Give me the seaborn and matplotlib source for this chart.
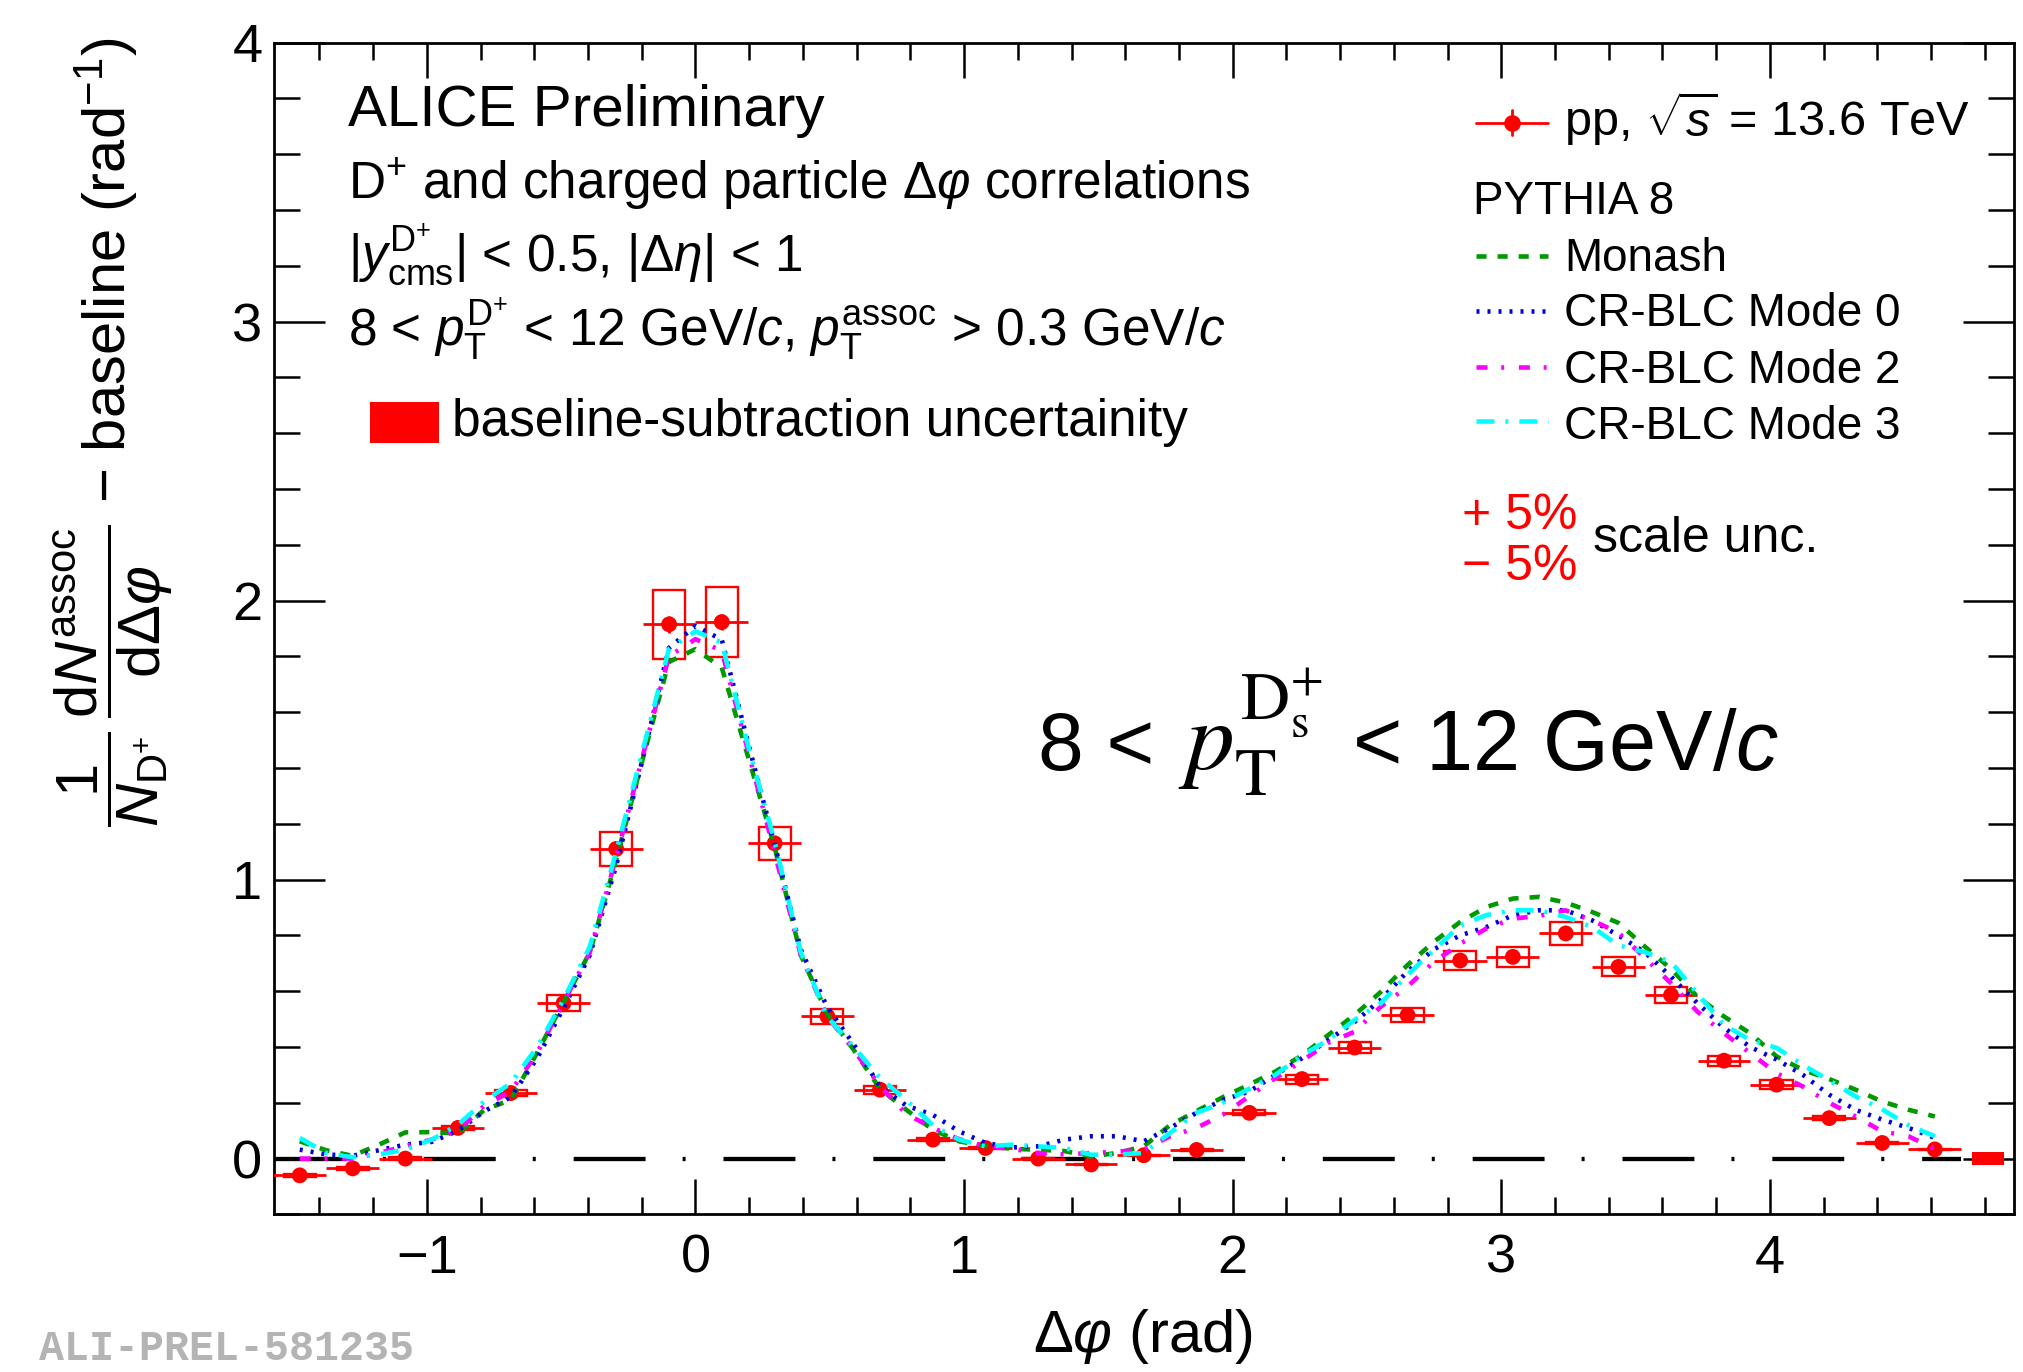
import numpy as np
import pandas as pd
import matplotlib
matplotlib.use("Agg")
import matplotlib.pyplot as plt
from matplotlib.lines import Line2D
from matplotlib.patches import Rectangle
from matplotlib.ticker import MultipleLocator
import seaborn as sns

# ---- D+ - charged-particle azimuthal correlation, pp 13.6 TeV, 8 < pT < 12 GeV/c ----
dphi = np.array([-1.473, -1.276, -1.080, -0.884, -0.687, -0.491, -0.295, -0.098,
                 0.098, 0.295, 0.491, 0.687, 0.884, 1.080, 1.276, 1.473,
                 1.669, 1.866, 2.062, 2.258, 2.454, 2.651, 2.847, 3.043,
                 3.240, 3.436, 3.632, 3.829, 4.025, 4.221, 4.418, 4.614])
corr = np.array([-0.060, -0.035, 0.000, 0.110, 0.235, 0.557, 1.110, 1.915,
                 1.923, 1.130, 0.510, 0.247, 0.068, 0.038, 0.000, -0.021,
                 0.012, 0.031, 0.164, 0.285, 0.398, 0.514, 0.710, 0.723,
                 0.807, 0.687, 0.586, 0.351, 0.265, 0.145, 0.056, 0.033])
stat = np.array([0.010, 0.010, 0.010, 0.012, 0.014, 0.018, 0.024, 0.030,
                 0.030, 0.024, 0.018, 0.014, 0.012, 0.010, 0.010, 0.010,
                 0.010, 0.010, 0.012, 0.014, 0.016, 0.018, 0.020, 0.020,
                 0.020, 0.020, 0.018, 0.016, 0.014, 0.012, 0.010, 0.010])
syst = np.array([0.006, 0.005, 0.004, 0.006, 0.012, 0.028, 0.060, 0.123,
                 0.126, 0.058, 0.027, 0.015, 0.005, 0.004, 0.002, 0.002,
                 0.002, 0.003, 0.009, 0.016, 0.021, 0.026, 0.035, 0.036,
                 0.040, 0.034, 0.029, 0.018, 0.016, 0.008, 0.004, 0.003])
bin_halfwidth = np.pi / 32
baseline_unc = 0.024

# ---- PYTHIA 8 predictions, sampled every half bin ----
model_dphi = np.round(-1.473 + np.arange(63) * np.pi / 32, 3)
monash = [0.062, 0.030, 0.010, 0.050, 0.094, 0.095, 0.090, 0.175, 0.210, 0.380,
          0.560, 0.740, 1.070, 1.430, 1.780, 1.826, 1.760, 1.440, 1.120, 0.730,
          0.520, 0.390, 0.250, 0.175, 0.104, 0.062, 0.045, 0.035, 0.032, 0.027,
          0.008, 0.020, 0.044, 0.120, 0.170, 0.220, 0.265, 0.312, 0.370, 0.443,
          0.515, 0.598, 0.693, 0.777, 0.848, 0.902, 0.932, 0.938, 0.918, 0.884,
          0.845, 0.760, 0.680, 0.580, 0.510, 0.449, 0.366, 0.318, 0.285, 0.247,
          0.205, 0.175, 0.151]
mode0 = [0.032, 0.015, 0.010, 0.030, 0.050, 0.060, 0.100, 0.170, 0.220, 0.360,
         0.540, 0.730, 1.050, 1.430, 1.830, 1.909, 1.860, 1.490, 1.130, 0.750,
         0.544, 0.410, 0.258, 0.190, 0.157, 0.098, 0.056, 0.040, 0.044, 0.068,
         0.080, 0.080, 0.062, 0.110, 0.164, 0.210, 0.240, 0.300, 0.360, 0.425,
         0.490, 0.570, 0.670, 0.750, 0.800, 0.830, 0.872, 0.890, 0.890, 0.854,
         0.800, 0.740, 0.652, 0.557, 0.470, 0.400, 0.355, 0.300, 0.229, 0.175,
         0.140, 0.110, 0.074]
mode2 = [0.000, 0.000, 0.000, 0.020, 0.045, 0.068, 0.100, 0.190, 0.240, 0.380,
         0.560, 0.740, 1.080, 1.440, 1.800, 1.862, 1.820, 1.460, 1.100, 0.730,
         0.510, 0.390, 0.260, 0.160, 0.110, 0.070, 0.044, 0.035, 0.020, 0.015,
         0.020, 0.025, 0.032, 0.080, 0.110, 0.157, 0.223, 0.288, 0.350, 0.415,
         0.455, 0.545, 0.616, 0.705, 0.770, 0.825, 0.860, 0.870, 0.890, 0.854,
         0.810, 0.720, 0.628, 0.527, 0.450, 0.378, 0.306, 0.258, 0.200, 0.151,
         0.098, 0.080, 0.035]
mode3 = [0.074, 0.020, 0.005, 0.015, 0.032, 0.068, 0.121, 0.205, 0.270, 0.400,
         0.570, 0.760, 1.100, 1.460, 1.826, 1.890, 1.850, 1.480, 1.140, 0.740,
         0.509, 0.400, 0.290, 0.210, 0.120, 0.068, 0.044, 0.050, 0.044, 0.038,
         0.014, 0.014, 0.020, 0.092, 0.164, 0.200, 0.250, 0.300, 0.370, 0.425,
         0.497, 0.557, 0.658, 0.747, 0.836, 0.873, 0.890, 0.890, 0.866, 0.830,
         0.765, 0.740, 0.705, 0.592, 0.480, 0.425, 0.397, 0.336, 0.280, 0.223,
         0.177, 0.120, 0.080]

model_names = ["Monash", "CR-BLC Mode 0", "CR-BLC Mode 2", "CR-BLC Mode 3"]
model_values = [monash, mode0, mode2, mode3]
model_colors = {"Monash": "#009900", "CR-BLC Mode 0": "#0000dd",
                "CR-BLC Mode 2": "#ff00ff", "CR-BLC Mode 3": "#00ffff"}
model_dashes = {"Monash": (2.2, 2.4), "CR-BLC Mode 0": (0.65, 1.75),
                "CR-BLC Mode 2": (2.4, 3.0, 0.65, 3.2),
                "CR-BLC Mode 3": (3.9, 2.4, 0.65, 2.4)}
model_lw = 3.3

models = pd.concat([pd.DataFrame({"dphi": model_dphi, "value": v, "model": n})
                    for n, v in zip(model_names, model_values)], ignore_index=True)

# ---- figure setup ----
W, H, DPI = 2023, 1372, 100
sns.set_theme(style="ticks")
plt.rcParams.update({
    "font.family": ["Liberation Sans", "DejaVu Sans"],
    "mathtext.fontset": "custom",
    "mathtext.rm": "Liberation Sans",
    "mathtext.it": "Liberation Sans:italic",
    "mathtext.bf": "Liberation Sans:bold",
    "mathtext.sf": "Liberation Sans",
    "axes.unicode_minus": True,
    "axes.edgecolor": "black",
    "axes.linewidth": 2.0,
    "text.color": "black",
    "xtick.color": "black",
    "ytick.color": "black",
})

def fx(x):
    return x / W

def fy(y):
    return 1 - y / H

fig = plt.figure(figsize=(W / DPI, H / DPI), dpi=DPI)
ax = fig.add_axes([fx(273.5), fy(1214.4), (2014 - 273.5) / W, (1214.4 - 42.6) / H])

# zero reference line
ax.plot([-np.pi / 2, 3 * np.pi / 2], [0, 0], color="black", lw=3.1,
        dashes=(16.7, 8.6, 0.7, 8.8), zorder=1)

# baseline-subtraction uncertainty
ax.bar(3 * np.pi / 2 + np.pi / 32, 2 * baseline_unc, bottom=-baseline_unc,
       width=0.12, color="red", linewidth=0, zorder=2)

# data: systematic boxes, statistical bars, markers
ax.bar(dphi, 2 * syst, bottom=corr - syst, width=0.12, fill=False,
       edgecolor="red", linewidth=1.7, zorder=3)
ax.errorbar(dphi, corr, xerr=bin_halfwidth, yerr=stat, fmt="none",
            ecolor="red", elinewidth=2.0, capsize=0, zorder=3)
sns.scatterplot(x=dphi, y=corr, color="red", s=130, edgecolor="none",
                linewidth=0, zorder=4, ax=ax, legend=False)

# PYTHIA 8 curves
sns.lineplot(data=models, x="dphi", y="value", hue="model", style="model",
             hue_order=model_names, style_order=model_names,
             palette=model_colors, dashes=model_dashes, linewidth=model_lw,
             estimator=None, errorbar=None, legend=False, ax=ax, zorder=5)

ax.set_xlim(-np.pi / 2, 3 * np.pi / 2 + np.pi / 16)
ax.set_ylim(-0.2, 4)
ax.set_xlabel("")
ax.set_ylabel("")
ax.xaxis.set_major_locator(MultipleLocator(1))
ax.xaxis.set_minor_locator(MultipleLocator(0.2))
ax.yaxis.set_major_locator(MultipleLocator(1))
ax.yaxis.set_minor_locator(MultipleLocator(0.2))
ax.tick_params(axis="x", which="major", direction="in", length=25, width=1.8,
               top=True, bottom=True, labelsize=39, pad=14)
ax.tick_params(axis="x", which="minor", direction="in", length=12, width=1.8,
               top=True, bottom=True)
ax.tick_params(axis="y", which="major", direction="in", length=37, width=1.8,
               left=True, right=True, labelsize=39, pad=8)
ax.tick_params(axis="y", which="minor", direction="in", length=19, width=1.8,
               left=True, right=True)
for s in ax.spines.values():
    s.set_linewidth(2.0)
    s.set_color("black")

# axis titles
fig.text(fx(1143), fy(1352), r"$\Delta\varphi$ (rad)", ha="center",
         va="baseline", size=43)
fig.text(fx(113), fy(38), r"$\dfrac{1}{N_{\mathrm{D}^{+}}}\,\dfrac{\mathrm{d}N^{\mathrm{assoc}}}"
         r"{\mathrm{d}\Delta\varphi}$ − baseline (rad$^{-1}$)",
         rotation=90, ha="center", va="top", size=43)

# left text block
fig.text(fx(348), fy(126), "ALICE Preliminary", va="baseline", size=42)
fig.text(fx(348), fy(199), r"D$^{+}$ and charged particle $\Delta\varphi$ correlations",
         va="baseline", size=37)
fig.text(fx(348), fy(271), r"|$y^{\mathrm{D}^{+}}_{\mathrm{cms}}$| < 0.5, |$\Delta\eta$| < 1",
         va="baseline", size=37)
fig.text(fx(348), fy(346),
         r"8 < $p_{\mathrm{T}}^{\mathrm{D}^{+}}$ < 12 GeV/$c$, $p_{\mathrm{T}}^{\mathrm{assoc}}$ > 0.3 GeV/$c$",
         va="baseline", size=37)
fig.add_artist(Rectangle((fx(370), fy(443)), (439 - 370) / W, (443 - 402) / H,
                         transform=fig.transFigure, color="red", lw=0))
fig.text(fx(452), fy(436), "baseline-subtraction uncertainity", va="baseline", size=37)

# right legend
fig.add_artist(Line2D([fx(1476), fx(1548)], [fy(122.6)] * 2, color="red", lw=2.0))
fig.add_artist(Line2D([fx(1512)] * 2, [fy(110), fy(135)], color="red", lw=2.0))
fig.add_artist(Line2D([fx(1512)], [fy(122.6)], marker="o", ms=11, color="red", lw=0))
fig.text(fx(1564), fy(135.5), r"pp, $\sqrt{s}$ = 13.6 TeV", va="baseline", size=35)
fig.text(fx(1473), fy(214), "PYTHIA 8", va="baseline", size=33)
key_y = [256, 311, 367, 421]
txt_y = [271, 326, 383, 439]
for name, ky, ty in zip(model_names, key_y, txt_y):
    fig.add_artist(Line2D([fx(1476), fx(1548)], [fy(ky)] * 2, color=model_colors[name],
                          lw=model_lw, dashes=model_dashes[name]))
    fig.text(fx(1564), fy(ty), name, va="baseline", size=33)
fig.text(fx(1462), fy(529), "+ 5%", color="red", va="baseline", size=36)
fig.text(fx(1462), fy(580), "− 5%", color="red", va="baseline", size=36)
fig.text(fx(1593), fy(552), "scale unc.", va="baseline", size=36)

# kinematic range label
fig.text(fx(1038), fy(770), "8 <", va="baseline", size=59)
fig.text(fx(1178), fy(770), r"$p_{\mathrm{T}}^{\mathrm{D_{s}^{+}}}$", va="baseline",
         size=70, math_fontfamily="stix")
fig.text(fx(1352), fy(770), r"< 12 GeV/$c$", va="baseline", size=61)

fig.text(fx(39), fy(1360), "ALI-PREL-581235", family=["Liberation Mono", "DejaVu Sans Mono"],
         weight="bold", color="#b4b4b4", va="baseline", size=30)

fig.savefig("out.png", dpi=DPI)
